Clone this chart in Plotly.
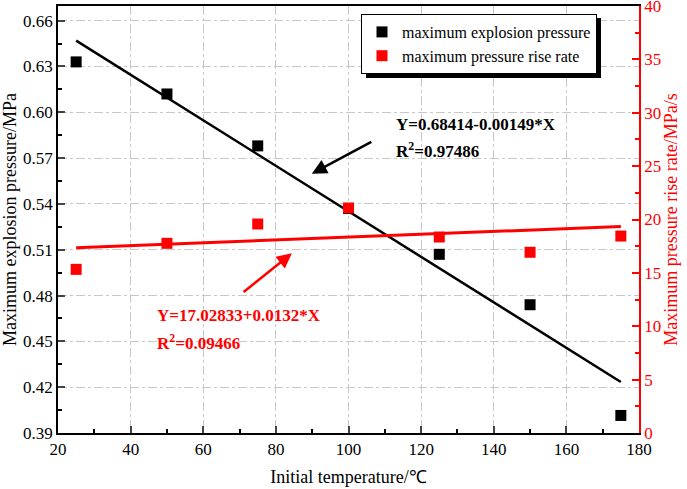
import plotly.graph_objects as go

temperature = [25, 50, 75, 100, 125, 150, 175]
explosion_pressure = [0.633, 0.612, 0.578, 0.537, 0.507, 0.474, 0.4015]
rise_rate = [15.33, 17.77, 19.58, 21.08, 18.36, 16.93, 18.45]

fit_x = [25, 175]
p_intercept, p_slope = 0.68414, -0.00149
r_intercept, r_slope = 17.02833, 0.0132

FONT = "Liberation Serif"

fig = go.Figure()

fig.add_trace(go.Scatter(x=fit_x, y=[p_intercept + p_slope * v for v in fit_x],
                         mode="lines", line=dict(color="black", width=2.5),
                         showlegend=False, hoverinfo="skip"))
fig.add_trace(go.Scatter(x=fit_x, y=[r_intercept + r_slope * v for v in fit_x],
                         mode="lines", line=dict(color="#ff0000", width=3),
                         yaxis="y2", showlegend=False, hoverinfo="skip"))
fig.add_trace(go.Scatter(x=temperature, y=explosion_pressure, mode="markers",
                         marker=dict(symbol="square", size=11, color="black"),
                         name="maximum explosion pressure"))
fig.add_trace(go.Scatter(x=temperature, y=rise_rate, mode="markers", yaxis="y2",
                         marker=dict(symbol="square", size=11, color="#ff0000"),
                         name="maximum pressure rise rate"))

L, R, T, B = 58, 48, 6, 56
W, H = 687, 489
pw, ph = W - L - R, H - T - B


def px2paper(px, py):
    return (px - L) / pw, 1 - (py - T) / ph


# legend shadow (legend box approx 361..597 x 14..74 px)
sx0, sy0 = px2paper(366, 78)
sx1, sy1 = px2paper(601, 18)
fig.add_shape(type="rect", xref="paper", yref="paper", x0=sx0, y0=sy0, x1=sx1, y1=sy1,
              fillcolor="black", line=dict(width=0), layer="above")

lx, ly = px2paper(361, 14)

annotations = [
    dict(x=112.5, y=0.592, xref="x", yref="y", text="<b>Y=0.68414-0.00149*X</b>",
         showarrow=False, xanchor="left", yanchor="middle",
         font=dict(family=FONT, size=17, color="black")),
    dict(x=112.5, y=0.575, xref="x", yref="y", text="<b>R<sup>2</sup>=0.97486</b>",
         showarrow=False, xanchor="left", yanchor="middle",
         font=dict(family=FONT, size=17, color="black")),
    dict(x=46.7, y=10.99, xref="x", yref="y2", text="<b>Y=17.02833+0.0132*X</b>",
         showarrow=False, xanchor="left", yanchor="middle",
         font=dict(family=FONT, size=17, color="#ff0000")),
    dict(x=46.7, y=8.55, xref="x", yref="y2", text="<b>R<sup>2</sup>=0.09466</b>",
         showarrow=False, xanchor="left", yanchor="middle",
         font=dict(family=FONT, size=17, color="#ff0000")),
    dict(x=89.9, y=0.5598, ax=106.7, ay=0.5811, xref="x", yref="y", axref="x", ayref="y",
         text="", showarrow=True, arrowhead=2, arrowsize=1.2, arrowwidth=2.5, arrowcolor="black"),
    dict(x=84.4, y=16.83, ax=70.7, ay=13.1, xref="x", yref="y2", axref="x", ayref="y2",
         text="", showarrow=True, arrowhead=2, arrowsize=1.2, arrowwidth=2.5, arrowcolor="#ff0000"),
]

grid = dict(showgrid=True, gridcolor="#c8c8c8", griddash="dashdot", gridwidth=1)

fig.update_layout(
    width=W, height=H,
    margin=dict(l=L, r=R, t=T, b=B, autoexpand=False),
    plot_bgcolor="white", paper_bgcolor="white",
    font=dict(family=FONT, size=17, color="black"),
    annotations=annotations,
    legend=dict(x=lx, y=ly, xanchor="left", yanchor="top", bgcolor="white",
                bordercolor="black", borderwidth=1, font=dict(family=FONT, size=16),
                tracegroupgap=0, itemwidth=30),
    xaxis=dict(range=[20, 180], dtick=20, tick0=20, ticks="inside", ticklen=7, tickwidth=1.5,
               showline=True, linecolor="black", linewidth=1.5, mirror=True, automargin=False,
               ticklabeloverflow="allow",
               minor=dict(ticks="inside", ticklen=4, dtick=10, tickcolor="black", showgrid=False),
               title=dict(text="Initial temperature/℃", font=dict(size=18), standoff=12),
               zeroline=False, **grid),
    yaxis=dict(range=[0.39, 0.6696], tick0=0.39, dtick=0.03, tickformat=".2f",
               ticks="inside", ticklen=7, tickwidth=1.5, automargin=False,
               ticklabeloverflow="allow",
               showline=True, linecolor="black", linewidth=1.5,
               minor=dict(ticks="inside", ticklen=4, dtick=0.015, tickcolor="black", showgrid=False),
               title=dict(text="Maximum explosion pressure/MPa", font=dict(size=18), standoff=2),
               zeroline=False, **grid),
    yaxis2=dict(range=[0, 40.001], tick0=0, dtick=5, overlaying="y", side="right", showgrid=False,
                ticks="inside", ticklen=7, tickwidth=1.5, tickcolor="#ff0000", automargin=False,
                ticklabeloverflow="allow",
                showline=True, linecolor="#ff0000", linewidth=1.5,
                tickfont=dict(color="#ff0000"),
                minor=dict(ticks="inside", ticklen=4, dtick=2.5, tickcolor="#ff0000"),
                title=dict(text="Maximum pressure rise rate/MPa/s", font=dict(size=18, color="#ff0000"), standoff=2),
                zeroline=False),
)

fig.write_html("out.html", config={"displayModeBar": False},
               post_script="document.body.style.margin='0px';")
